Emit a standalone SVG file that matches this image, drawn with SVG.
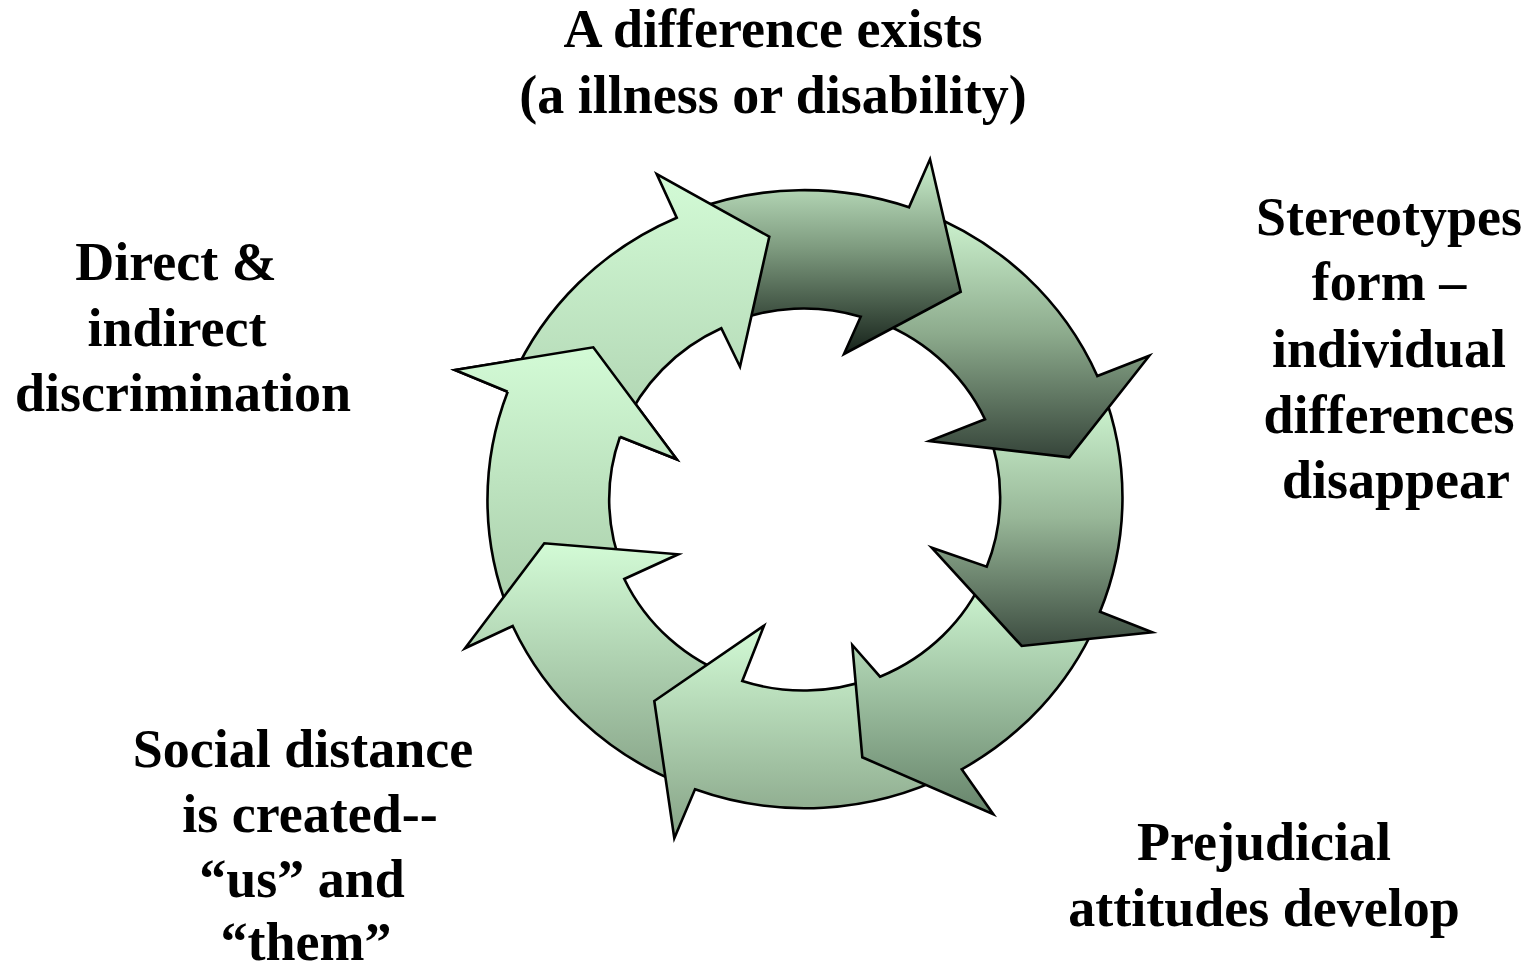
<svg xmlns="http://www.w3.org/2000/svg" width="1535" height="970" viewBox="0 0 1535 970">
<defs>
<style>
.arr{stroke:#000;stroke-width:2.6;stroke-linejoin:miter;stroke-miterlimit:10}
.edge{fill:none;stroke:#000;stroke-width:2.6;stroke-linejoin:miter;stroke-miterlimit:10}
.lbl{font-family:"Liberation Serif","Times New Roman",serif;font-weight:bold;font-size:54px;fill:#000;text-anchor:middle}
</style>
<linearGradient id="g1" gradientUnits="userSpaceOnUse" x1="0" y1="174" x2="0" y2="430"><stop offset="0" stop-color="#d3fbd6"/><stop offset="1" stop-color="#b0d4b2"/></linearGradient>
<linearGradient id="g2" gradientUnits="userSpaceOnUse" x1="0" y1="159" x2="0" y2="354"><stop offset="0" stop-color="#cdf2cf"/><stop offset="0.45" stop-color="#7f9c80"/><stop offset="1" stop-color="#16221a"/></linearGradient>
<linearGradient id="g3" gradientUnits="userSpaceOnUse" x1="0" y1="212" x2="0" y2="457"><stop offset="0" stop-color="#d0f6d2"/><stop offset="0.5" stop-color="#8caa8c"/><stop offset="1" stop-color="#36453a"/></linearGradient>
<linearGradient id="g4" gradientUnits="userSpaceOnUse" x1="0" y1="389" x2="0" y2="646"><stop offset="0" stop-color="#d3fbd6"/><stop offset="0.5" stop-color="#98b798"/><stop offset="1" stop-color="#3c4c40"/></linearGradient>
<linearGradient id="g5" gradientUnits="userSpaceOnUse" x1="0" y1="575" x2="0" y2="815"><stop offset="0" stop-color="#d3fbd6"/><stop offset="1" stop-color="#66836a"/></linearGradient>
<linearGradient id="g6" gradientUnits="userSpaceOnUse" x1="0" y1="626" x2="0" y2="838"><stop offset="0" stop-color="#d3fbd6"/><stop offset="1" stop-color="#86a286"/></linearGradient>
<linearGradient id="g7" gradientUnits="userSpaceOnUse" x1="0" y1="543" x2="0" y2="784"><stop offset="0" stop-color="#d3fbd6"/><stop offset="1" stop-color="#88a589"/></linearGradient>
<linearGradient id="g8" gradientUnits="userSpaceOnUse" x1="0" y1="347" x2="0" y2="613"><stop offset="0" stop-color="#d3fbd6"/><stop offset="1" stop-color="#a8cca9"/></linearGradient>
</defs>
<rect width="1535" height="970" fill="#fff"/>
<g id="cycle">
<g id="arrow8"><path class="arr" fill="url(#g8)" d="M509.3,612.7 A318,309 0 0 1 507.7,391.7 L455,370 L593.3,347.3 L676.7,459.3 L620,436.7 A196,191 0 0 0 623.3,570.5 Z"/></g>
<g id="arrow7"><path class="arr" fill="url(#g7)" d="M682.3,784.1 A318,309 0 0 1 512.7,626 L465,648.3 L544.3,543.3 L678.3,554.3 L624.3,579 A196,191 0 0 0 734.8,677.3 Z"/></g>
<g id="arrow6"><path class="arr" fill="url(#g6)" d="M948.9,774.6 A318,309 0 0 1 695,789.3 L674.3,838.3 L654.3,701 L764,625.7 L742.3,681 A196,191 0 0 0 871.4,678.7 Z"/></g>
<g id="arrow5"><path class="arr" fill="url(#g5)" d="M1095.7,624.2 A318,309 0 0 1 961.7,769.3 L993.3,814.3 L862.3,757.3 L852.3,645 L880,676.7 A196,191 0 0 0 984.9,574.8 Z"/></g>
<g id="arrow4"><path class="arr" fill="url(#g4)" d="M1102.1,388.8 A318,309 0 0 1 1100,611.7 L1152.3,632.3 L1021.7,646 L931.7,547.7 L986.7,566.7 A196,191 0 0 0 986.7,427.5 Z"/></g>
<g id="arrow3"><path class="arr" fill="url(#g3)" d="M922.1,211.7 A318,309 0 0 1 1097.3,376 L1149.3,355.7 L1069.3,457.3 L929.3,441 L985,419.3 A196,191 0 0 0 869.1,318.5 Z"/></g>
<g id="arrow2"><path class="arr" fill="url(#g2)" d="M689,211.3 A318,309 0 0 1 909,207.3 L930,159.3 L960.7,291.7 L844,354 L860.7,316.7 A196,191 0 0 0 728.4,323.2 Z"/></g>
<g id="arrow1"><path class="arr" fill="url(#g1)" d="M512.1,378.8 A318,309 0 0 1 676.7,217.7 L656.7,174 L769.3,236.7 L740,366.7 L721.3,328.3 A196,191 0 0 0 622.8,428.7 Z"/></g>
<g id="arrow8-head">
<polygon fill="url(#g8)" points="507.7,391.7 455,370 593.3,347.3 676.7,459.3 620,436.7"/>
<polyline class="edge" points="507.7,391.7 455,370 593.3,347.3 676.7,459.3 620,436.7"/>
</g>
</g>
<g id="label-top">
<text class="lbl" x="773" y="47">A difference exists</text>
<text class="lbl" x="773" y="113">(a illness or disability)</text>
</g>
<g id="label-right">
<text class="lbl" x="1389" y="235">Stereotypes</text>
<text class="lbl" x="1389" y="300">form –</text>
<text class="lbl" x="1389" y="367">individual</text>
<text class="lbl" x="1389" y="433">differences</text>
<text class="lbl" x="1396" y="498">disappear</text>
</g>
<g id="label-bottom-right">
<text class="lbl" x="1264" y="860">Prejudicial</text>
<text class="lbl" x="1264" y="926">attitudes develop</text>
</g>
<g id="label-bottom-left">
<text class="lbl" x="303" y="767">Social distance</text>
<text class="lbl" x="310" y="832">is created--</text>
<text class="lbl" x="302" y="897">“us” and</text>
<text class="lbl" x="306" y="960">“them”</text>
</g>
<g id="label-left">
<text class="lbl" x="176" y="280">Direct &amp;</text>
<text class="lbl" x="177" y="346">indirect</text>
<text class="lbl" x="183" y="411">discrimination</text>
</g>
</svg>
